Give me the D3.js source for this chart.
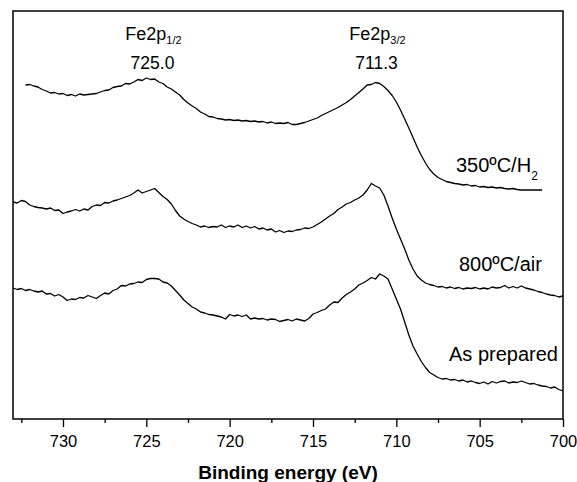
<!DOCTYPE html>
<html>
<head>
<meta charset="utf-8">
<script src="https://cdn.jsdelivr.net/npm/d3@7"></script>
<style>
  body { margin: 0; background: #fff; }
  svg text { font-family: "Liberation Sans", Arial, sans-serif; fill: #000; }
</style>
</head>
<body>
<div id="chart"></div>
<script>
const width = 577;
const height = 482;

const margin = { top: 11, left: 13, right: 14, bottom: 63 };

// binding energy grid (eV), 0.25 eV step, reversed axis
const step = 0.25;

// 350ºC/H2 (top trace), starts at 732.25 eV
const h2Start = 732.25;
const h2Values = [
  334, 334.5, 333, 332, 329.5, 328, 326, 326.5, 325, 325.5,
  323.5, 324.5, 323, 325, 324, 324.5, 325, 325.5, 327, 328.5,
  329, 331.5, 332.5, 333, 335.5, 335, 337, 339.5, 338.5, 341,
  339.5, 340, 337, 335.5, 332, 330, 327, 324, 319.5, 316,
  313, 310.5, 307, 305, 302.5, 302, 300.5, 300, 299, 299.5,
  298.5, 299, 298, 298.5, 297.5, 298, 297, 297.5, 296, 297,
  295.5, 296, 295.5, 296.5, 294.5, 294.5, 295.5, 296.5, 298, 299.5,
  301, 303.5, 305.5, 307.5, 309.5, 311.5, 314, 316.5, 319.5, 323,
  326.5, 330, 334, 334.5, 336.5, 335.5, 332.5, 328.5, 323.5, 317,
  309, 300, 291, 281.5, 272, 263.5, 256, 249.5, 245, 241.5,
  239.5, 237.5, 236.5, 235.5, 235, 234, 234.5, 233, 233.5, 232,
  232.5, 231.5, 232, 231, 231.5, 230.5, 230, 230.5, 229.5, 229,
  229, 229, 229, 229, 229
];

// 800ºC/air (middle trace), starts at 733 eV
const airStart = 733;
const airValues = [
  217, 216, 218.5, 217.5, 214, 212.5, 211.5, 211, 210, 211,
  208.5, 209, 205.5, 207, 208, 209.5, 208, 210, 209, 212.5,
  214, 213.5, 216.5, 216, 218, 219, 220.5, 222, 223.5, 226,
  229, 226, 227.5, 229, 230.5, 226.5, 222.5, 219.5, 215, 208.5,
  203, 200, 197.5, 195.5, 194, 192, 193, 191.5, 192.5, 192,
  194, 191.5, 193, 192, 194, 191.5, 193, 191, 192.5, 190,
  191, 189, 190, 187, 188.5, 186.5, 188, 187.5, 189, 189.5,
  191, 190.5, 192, 194.5, 197, 200, 203, 205.5, 209.5, 212,
  215, 216.5, 219, 221, 224, 229, 235.5, 233, 231, 224,
  213, 201, 190, 180, 170, 159, 150, 143, 139, 136,
  134.5, 133.5, 132, 132.5, 131, 132, 130.5, 131.5, 130, 131,
  130.5, 131.5, 130, 131, 130, 132, 131, 131.5, 133.5, 131,
  132.5, 131, 133, 131, 130, 129, 127.5, 126.5, 125, 124,
  123.5, 122, 123
];

// As prepared (bottom trace), starts at 733 eV
const prepStart = 733;
const prepValues = [
  131, 129.5, 130.5, 128.5, 129.5, 128, 127, 128, 125, 125.5,
  123, 124.5, 122, 118.5, 120, 119.5, 121.5, 121, 123.5, 122,
  120.5, 123.5, 126, 125, 128.5, 130, 133.5, 133, 135, 135.5,
  137, 136.5, 139.5, 140.5, 140.5, 140, 137, 136, 133, 128.5,
  124, 119, 115.5, 112, 110, 107, 106, 104.5, 104, 103,
  102, 100, 104.5, 103, 104, 102.5, 104, 100, 101, 100,
  100.5, 99, 100, 99.5, 97.5, 98.5, 99.5, 98, 100, 99,
  98, 100.5, 105, 106.5, 108.5, 110, 114, 117, 116.5, 121,
  124.5, 127, 130, 134, 136, 138.5, 141.5, 140, 145, 143,
  140, 130, 120, 110, 97, 84, 73, 65, 57.5, 51.5,
  46.5, 44, 41.5, 40, 40.5, 39, 39.5, 38, 39, 37,
  38, 36.5, 35.5, 37, 35, 37.5, 36, 37.5, 38, 36,
  37, 36.5, 38, 36.5, 35, 35.5, 34, 33, 32.5, 31,
  32, 29.5, 28
];

const series = [
  { name: "350ºC/H", start: h2Start, values: h2Values },
  { name: "800ºC/air", start: airStart, values: airValues },
  { name: "As prepared", start: prepStart, values: prepValues }
];

const majorTicks = [730, 725, 720, 715, 710, 705, 700];
const minorTicks = [732.5, 727.5, 722.5, 717.5, 712.5, 707.5, 702.5];

const innerW = width - margin.left - margin.right;
const innerH = height - margin.top - margin.bottom;

const xScale = d3.scaleLinear().domain([733, 700]).range([0, innerW]);
const yScale = d3.scaleLinear().domain([0, innerH]).range([innerH, 0]);

const svg = d3.select("#chart").append("svg").attr("width", width).attr("height", height);
const g = svg.append("g").attr("transform", `translate(${margin.left},${margin.top})`);

// traces
const line = d3.line()
  .x(d => xScale(d.e))
  .y(d => yScale(d.v));

series.forEach(s => {
  const pts = s.values.map((v, i) => ({ e: s.start - i * step, v: v }));
  g.append("path")
    .datum(pts)
    .attr("fill", "none")
    .attr("stroke", "#000")
    .attr("stroke-width", 1.3)
    .attr("stroke-linejoin", "round")
    .attr("d", line);
});

// x axis, major + minor ticks
const xAxis = d3.axisBottom(xScale).tickValues(majorTicks).tickSize(8).tickPadding(8).tickFormat(d3.format("d"));
const xMinor = d3.axisBottom(xScale).tickValues(minorTicks).tickSize(4).tickFormat("");

const ax = g.append("g").attr("transform", `translate(0,${innerH})`).call(xAxis);
const axm = g.append("g").attr("transform", `translate(0,${innerH})`).call(xMinor);
[ax, axm].forEach(a => {
  a.select(".domain").remove();
  a.selectAll("line").attr("stroke", "#000").attr("stroke-width", 1.3);
});
ax.selectAll("text").style("font-size", "16.5px").style("font-family", "'Liberation Sans', Arial, sans-serif");

// frame
g.append("rect")
  .attr("x", 0).attr("y", 0)
  .attr("width", innerW).attr("height", innerH)
  .attr("fill", "none")
  .attr("stroke", "#000")
  .attr("stroke-width", 1.5);

// axis title
svg.append("text")
  .attr("x", margin.left + innerW / 2)
  .attr("y", 479)
  .attr("text-anchor", "middle")
  .style("font-size", "19px")
  .style("font-weight", "bold")
  .text("Binding energy (eV)");

// peak annotations
function peakLabel(x, sub, value) {
  const t = svg.append("text").attr("x", x).attr("y", 40).attr("text-anchor", "middle").style("font-size", "18px");
  t.append("tspan").text("Fe2p");
  t.append("tspan").attr("dy", 4).style("font-size", "11px").text(sub);
  svg.append("text").attr("x", x - 1).attr("y", 69).attr("text-anchor", "middle").style("font-size", "17.5px").text(value);
}
peakLabel(153.5, "1/2", "725.0");
peakLabel(377.5, "3/2", "711.3");

// trace labels
const lbl1 = svg.append("text").attr("x", 456).attr("y", 171.5).style("font-size", "20px");
lbl1.append("tspan").text("350ºC/H");
lbl1.append("tspan").attr("dy", 8).style("font-size", "12px").text("2");

svg.append("text").attr("x", 459).attr("y", 270.5).style("font-size", "20px").text("800ºC/air");
svg.append("text").attr("x", 449).attr("y", 361).style("font-size", "20px").text("As prepared");
</script>
</body>
</html>
